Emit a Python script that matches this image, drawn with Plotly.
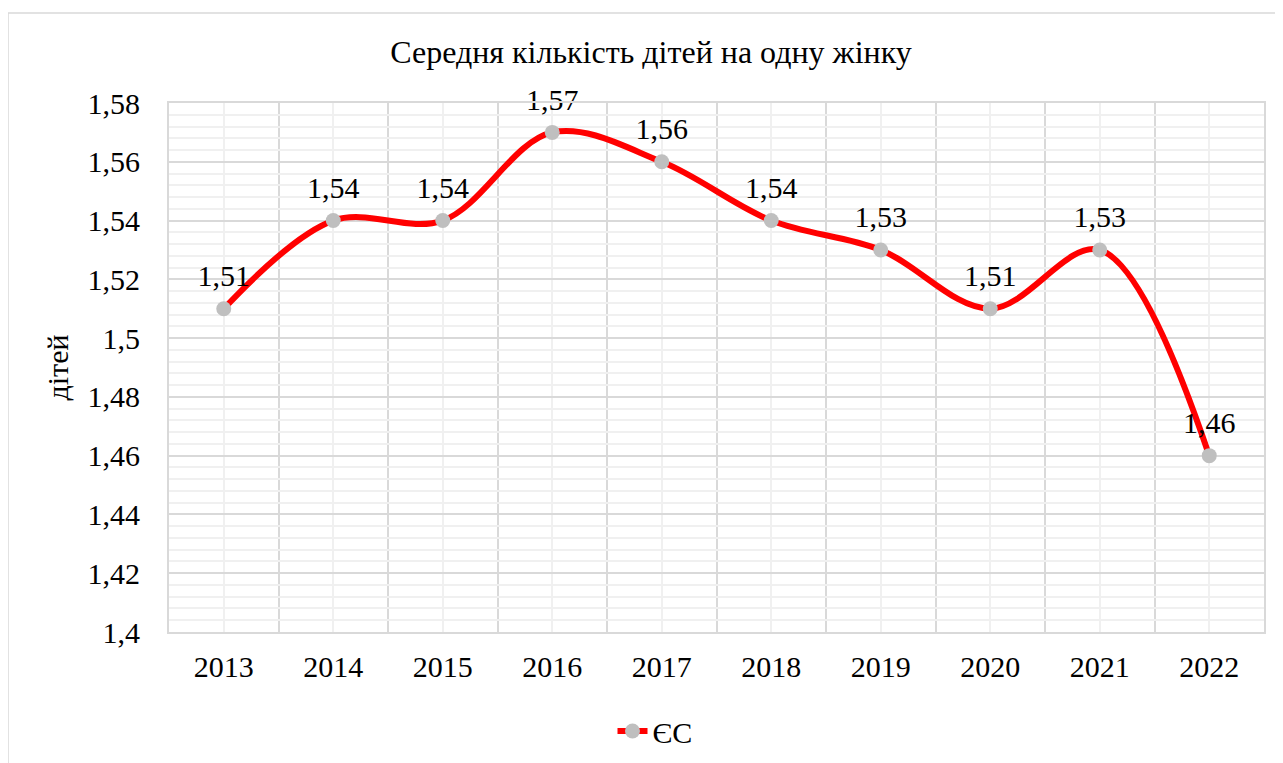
import plotly.graph_objects as go

years = [2013, 2014, 2015, 2016, 2017, 2018, 2019, 2020, 2021, 2022]
values = [1.51, 1.54, 1.54, 1.57, 1.56, 1.54, 1.53, 1.51, 1.53, 1.46]
value_labels = ["1,51", "1,54", "1,54", "1,57", "1,56", "1,54", "1,53", "1,51", "1,53", "1,46"]
y_ticks = [1.40, 1.42, 1.44, 1.46, 1.48, 1.50, 1.52, 1.54, 1.56, 1.58]
y_tick_labels = ["1,4", "1,42", "1,44", "1,46", "1,48", "1,5", "1,52", "1,54", "1,56", "1,58"]
series_name = "ЄС"
title_text = "Середня кількість дітей на одну жінку"
y_title = "дітей"

FONT = "Liberation Serif, Times New Roman, serif"

# page body adds an 8px offset; compensate so the figure lands where the reference is
W, H = 1275, 755
OFF = 8

fig = go.Figure()
fig.add_trace(go.Scatter(
    x=years, y=values, name=series_name,
    mode="lines+markers",
    line=dict(color="#FF0000", width=6, shape="spline", smoothing=1.0),
    marker=dict(color="#BFBFBF", size=15),
))
# data labels (invisible larger marker to push label a bit higher)
fig.add_trace(go.Scatter(
    x=years, y=values, mode="markers+text", showlegend=False, hoverinfo="skip",
    marker=dict(size=23, opacity=0),
    text=value_labels, textposition="top center",
    textfont=dict(family=FONT, size=30, color="#000000"),
    cliponaxis=False,
))

fig.update_layout(
    width=W, height=H,
    paper_bgcolor="white", plot_bgcolor="white",
    margin=dict(l=169 - OFF, r=W - (1264 - OFF), t=103 - OFF, b=H - (632 - OFF), autoexpand=False),
    font=dict(family=FONT, color="#000000", size=30),
    title=dict(text=title_text, font=dict(family=FONT, size=32, color="#000000"),
               x=(651 - OFF) / W, xref="container", xanchor="center",
               y=1 - (52 - OFF) / H, yref="container", yanchor="middle"),
    showlegend=True,
    legend=dict(orientation="h", x=(655-169)/1095, xanchor="center",
                y=(632-731)/529, yanchor="middle",
                font=dict(family=FONT, size=30, color="#000000")),
    xaxis=dict(
        range=[2012.5, 2022.5], tickmode="array", tickvals=years,
        ticktext=[str(y) for y in years], automargin=False,
        showgrid=True, gridcolor="#F0F0F0", gridwidth=1.5,
        ticks="outside", ticklen=7, tickcolor="rgba(0,0,0,0)",
        tickfont=dict(family=FONT, size=30),
        showline=True, mirror=True, linecolor="#D9D9D9", linewidth=2,
        zeroline=False,
        minor=dict(tickmode="linear", tick0=2012.5, dtick=1, showgrid=True,
                   gridcolor="#D9D9D9", gridwidth=2, ticks=""),
    ),
    yaxis=dict(
        range=[1.4, 1.58], tickmode="array", tickvals=y_ticks, ticktext=y_tick_labels,
        automargin=False,
        showgrid=True, gridcolor="#D9D9D9", gridwidth=2,
        ticks="outside", ticklen=21, tickcolor="rgba(0,0,0,0)",
        tickfont=dict(family=FONT, size=30),
        showline=True, mirror=True, linecolor="#D9D9D9", linewidth=2,
        zeroline=False,
        title=dict(text=y_title, font=dict(family=FONT, size=30), standoff=10),
        minor=dict(tickmode="linear", tick0=1.4, dtick=0.004, showgrid=True,
                   gridcolor="#F0F0F0", gridwidth=1.5, ticks=""),
    ),
)

# outer chart-area frame
fig.add_shape(type="rect", xref="paper", yref="paper",
              x0=(8-169)/1095, x1=(1295-169)/1095,
              y0=(632-775)/529, y1=(632-13)/529,
              line=dict(color="#D9D9D9", width=1.5), fillcolor="rgba(0,0,0,0)",
              layer="below")

fig.write_html("out.html")
